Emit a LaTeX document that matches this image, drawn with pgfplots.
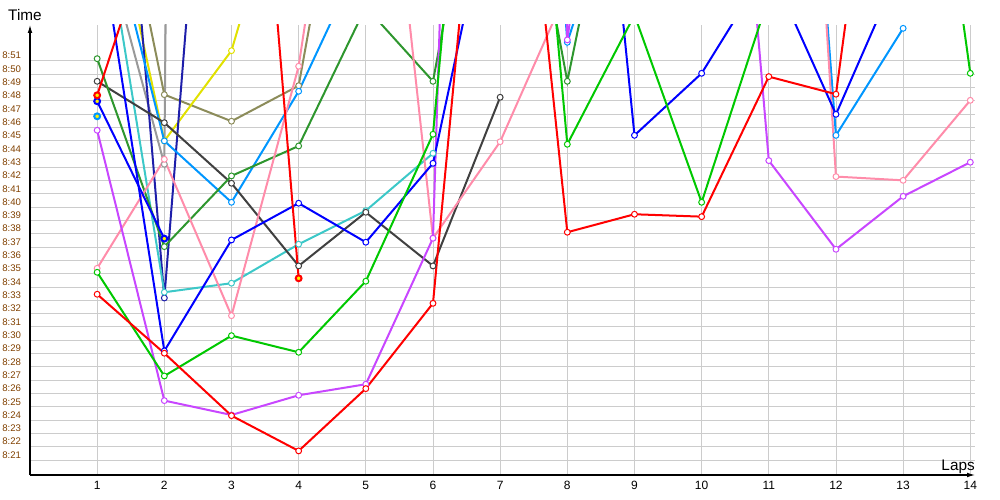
\documentclass[border=0pt]{standalone}
\usepackage{pgfplots}
\pgfplotsset{compat=1.18}
\usetikzlibrary{arrows.meta}
\usepackage{fontspec}
\setmainfont{Liberation Sans}

\definecolor{cRed}{HTML}{FF0000}
\definecolor{cGreen}{HTML}{00C800}
\definecolor{cDkGreen}{HTML}{2E962E}
\definecolor{cBlue}{HTML}{0000FF}
\definecolor{cNavy}{HTML}{1E1EAA}
\definecolor{cCyan}{HTML}{3CC8C8}
\definecolor{cLtBlue}{HTML}{0096FF}
\definecolor{cPink}{HTML}{FF8CAA}
\definecolor{cPurple}{HTML}{C846FF}
\definecolor{cDkGray}{HTML}{404040}
\definecolor{cGray}{HTML}{999999}
\definecolor{cOlive}{HTML}{8C8C5A}
\definecolor{cYellow}{HTML}{E1E100}
\definecolor{gridgray}{HTML}{CCCCCC}
\definecolor{tickbrown}{HTML}{804000}

\begin{document}
\begin{tikzpicture}
\begin{axis}[
    name=ax,
    scale only axis,
    width=708.75pt, height=337.5pt,
    xmin=0, xmax=14.07,
    ymin=19.87, ymax=53.68,
    axis lines=left,
    axis line style={line width=0.75pt, -{Latex[length=6pt,width=3.5pt]}},
    xtick={1,...,14},
    ytick={21,...,51},
    major tick length=0pt,
    grid=major,
    grid style={color=gridgray, line width=0.6pt},
    /pgf/number format/assume math mode=true,
    yticklabel={8:\pgfmathparse{int(round(\tick))}\pgfmathresult},
    yticklabel style={font=\fontsize{7.2pt}{7.5pt}\selectfont, text=tickbrown,
        anchor=east, inner sep=0pt, xshift=-6.5pt, yshift=3.75pt},
    xticklabel style={font=\fontsize{9pt}{10pt}\selectfont, text=black,
        anchor=north, inner sep=0pt, yshift=-4.5pt},
    xlabel={Laps}, ylabel={Time},
    every axis x label/.style={at={(rel axis cs:1,0)}, anchor=base east,
        inner sep=0pt, yshift=3.2pt, font=\fontsize{11.5pt}{12pt}\selectfont},
    every axis y label/.style={at={(rel axis cs:0,1)}, anchor=base,
        inner sep=0pt, yshift=3pt, xshift=-3.75pt, font=\fontsize{11.5pt}{12pt}\selectfont},
    ser/.style={color=#1, line width=1.5pt, mark=*, mark size=2.2pt,
        mark options={fill=white, line width=0.75pt, solid}},
]
% lap times in seconds after 8:00; values above the top are laps off the scale
\addplot[ser=cGray] coordinates {(1,61.87) (2,43.22) (3,604)};
\addplot[ser=cOlive] coordinates {(1,72.99) (2,48.45) (3,46.45) (4,49.12) (5,76.97)};
\addplot[ser=cYellow] coordinates {(1,68.41) (2,44.97) (3,51.75) (4,68.93)};
\addplot[ser=cNavy] coordinates {(1,94.0) (2,33.17) (3,96.5)};
\addplot[ser=cCyan] coordinates {(1,64.65) (2,33.6) (3,34.28) (4,37.21) (5,39.73) (6,44.04)};
\addplot[ser=cLtBlue] coordinates {(1,64.95) (2,44.97) (3,40.36) (4,48.7) (5,59.47)
    (6,85.6) (7,123.2) (8,52.38) (9,68.03) (10,89.4) (11,111.7) (12,45.39) (13,53.43)};
\addplot[ser=cLtBlue, mark options={fill=yellow}] coordinates {(1,46.82)};
\addplot[ser=cDkGray] coordinates {(1,49.45) (2,46.34) (3,41.79) (4,35.58) (5,39.61) (6,35.58) (7,48.25)};
\addplot[ser=cDkGreen] coordinates {(1,51.15) (2,37.03) (3,42.34) (4,44.59) (5,55.03)
    (6,49.45) (7,76.6) (8,49.45) (9,73.97)};
\addplot[ser=cPink] coordinates {(1,35.4) (2,43.59) (3,31.84) (4,50.58) (5,84.11) (6,37.66)
    (7,44.91) (8,56.31) (9,78.1) (10,100.64) (11,123.2) (12,42.29) (13,42.01) (14,48.02)};
\addplot[ser=cPurple] coordinates {(1,45.77) (2,25.46) (3,24.38) (4,25.86) (5,26.69) (6,37.66)
    (7,198.3) (8,52.56) (9,89.14) (10,102.67) (11,43.49) (12,36.83) (13,40.81) (14,43.37)};
\addplot[ser=cBlue] coordinates {(1,61.5) (2,29.19) (3,37.53) (4,40.29) (5,37.36) (6,43.29)
    (7,66.8) (8,95.76) (9,45.39) (10,50.05) (11,58.19) (12,46.97) (13,58.49)};
\addplot[ser=cBlue, mark options={fill=yellow}] coordinates {(1,47.95) (2,37.63)};
\addplot[ser=cGreen] coordinates {(1,35.1) (2,27.31) (3,30.34) (4,29.09) (5,34.43) (6,45.47)
    (7,99.89) (8,44.72) (9,54.43) (10,40.36) (11,55.79) (12,70.59) (13,86.36) (14,50.05)};
\addplot[ser=cRed] coordinates {(1,33.45) (2,29.02) (3,24.33) (4,21.68) (5,26.36) (6,32.77)
    (7,86.4) (8,38.11) (9,39.46) (10,39.28) (11,49.8) (12,48.48) (13,86.0)};
\addplot[ser=cRed, mark options={fill=yellow}] coordinates {(1,48.4) (2,63.7) (3,95.6) (4,34.65)};
\coordinate (ll) at (rel axis cs:0,0);
\coordinate (ur) at (rel axis cs:1,1);
\end{axis}
\pgfresetboundingbox
\path[use as bounding box] ([shift={(-22.5pt,-18.75pt)}]ll) rectangle ([shift={(18.75pt,18.75pt)}]ur);
\end{tikzpicture}
\end{document}
